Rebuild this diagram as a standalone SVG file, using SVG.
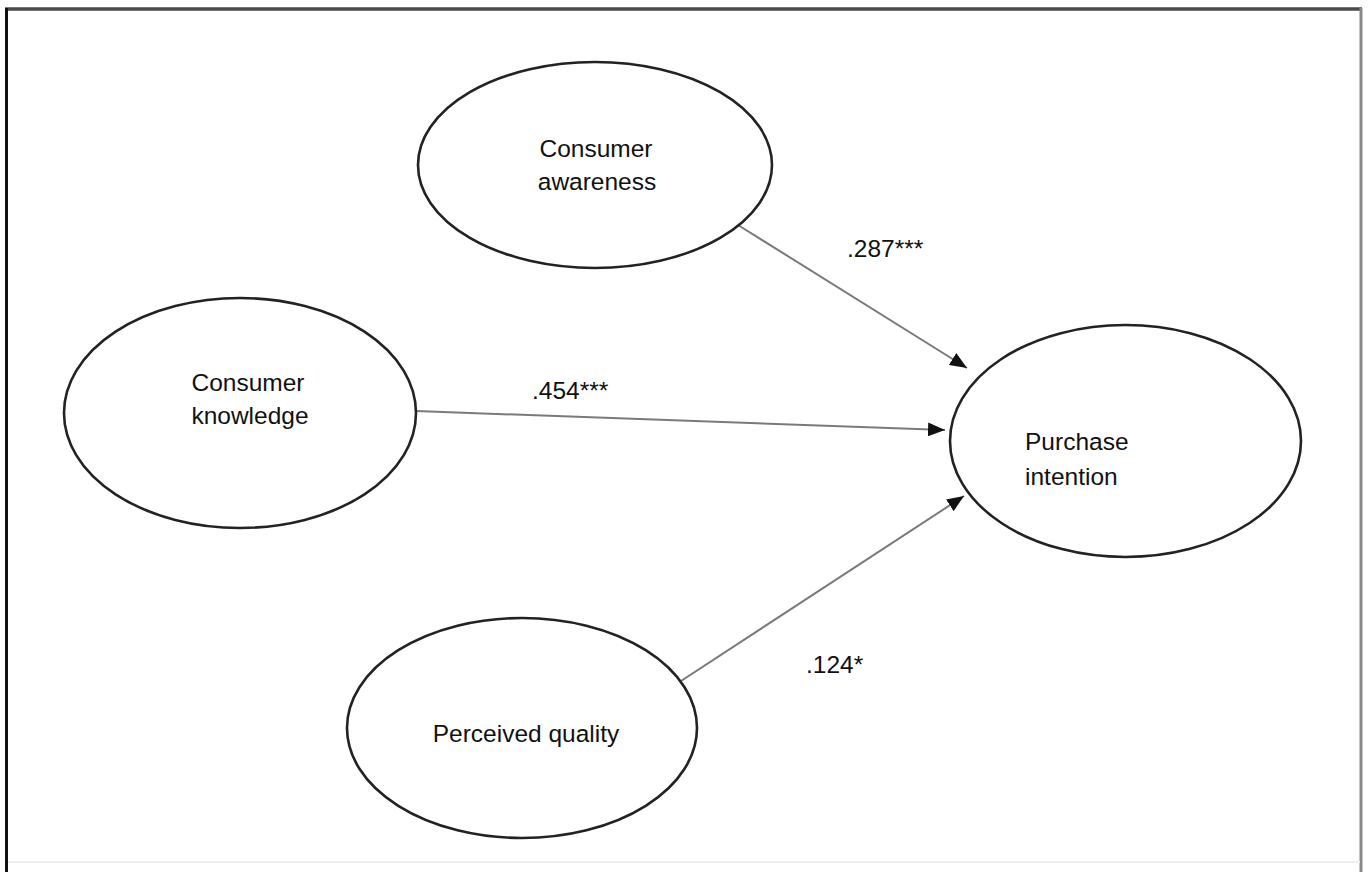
<svg xmlns="http://www.w3.org/2000/svg" width="1369" height="872" viewBox="0 0 1369 872">
<defs>
<style>
.node{fill:#fff;stroke:#222;stroke-width:2.6}
.lbl{font-family:"Liberation Sans",Arial,sans-serif;font-size:24.5px;fill:#111}
.conn{stroke:#7a7a7a;stroke-width:2;fill:none}
</style>
<marker id="ah" markerUnits="userSpaceOnUse" markerWidth="18" markerHeight="14" refX="17" refY="7" orient="auto">
<path d="M0,0 L17,7 L0,14 Z" fill="#111"/>
</marker>
</defs>
<rect width="1369" height="872" fill="#fff"/>
<g id="frame">
<line x1="5" y1="9" x2="1362" y2="9" stroke="#4a4a4a" stroke-width="3.5"/>
<line x1="6.5" y1="8" x2="6.5" y2="872" stroke="#111" stroke-width="3"/>
<line x1="1361" y1="8" x2="1361" y2="872" stroke="#888" stroke-width="3"/>
<line x1="8" y1="862" x2="1360" y2="862" stroke="#eee" stroke-width="2"/>
</g>
<g id="connectors">
<line class="conn" x1="738" y1="225" x2="967" y2="368" marker-end="url(#ah)"/>
<line class="conn" x1="416" y1="411" x2="945" y2="430" marker-end="url(#ah)"/>
<line class="conn" x1="681" y1="681" x2="964" y2="496" marker-end="url(#ah)"/>
<text class="lbl" x="847" y="257">.287***</text>
<text class="lbl" x="532" y="399">.454***</text>
<text class="lbl" x="806" y="673">.124*</text>
</g>
<g id="consumer-awareness">
<ellipse class="node" cx="595" cy="165" rx="177" ry="103"/>
<text class="lbl" x="596" y="157" text-anchor="middle">Consumer</text>
<text class="lbl" x="597" y="190" text-anchor="middle">awareness</text>
</g>
<g id="consumer-knowledge">
<ellipse class="node" cx="240" cy="413" rx="176" ry="115"/>
<text class="lbl" x="248" y="391" text-anchor="middle">Consumer</text>
<text class="lbl" x="250" y="424" text-anchor="middle">knowledge</text>
</g>
<g id="perceived-quality">
<ellipse class="node" cx="522" cy="728" rx="175" ry="110"/>
<text class="lbl" x="526" y="742" text-anchor="middle">Perceived quality</text>
</g>
<g id="purchase-intention">
<ellipse class="node" cx="1125.5" cy="441" rx="175.5" ry="116"/>
<text class="lbl" x="1025" y="450">Purchase</text>
<text class="lbl" x="1025" y="485">intention</text>
</g>
</svg>
